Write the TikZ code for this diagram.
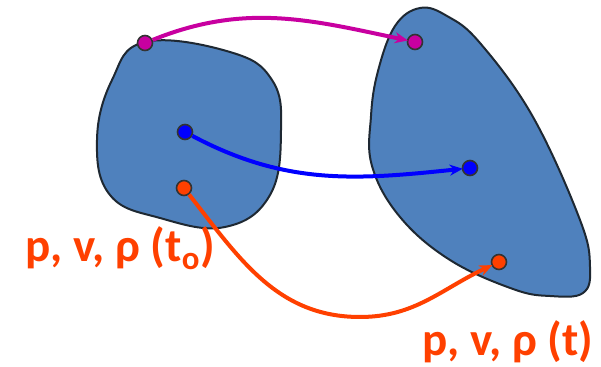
\documentclass[tikz,border=0pt]{standalone}
\usepackage{fontspec}
\setmainfont{Carlito}
\usetikzlibrary{arrows.meta}

\definecolor{blobblue}{RGB}{79,129,189}
\definecolor{blobedge}{RGB}{30,40,50}
\definecolor{magline}{RGB}{200,0,160}
\definecolor{redline}{RGB}{255,64,0}

\begin{document}
\begin{tikzpicture}[
  x=1pt, y=1pt, >={Stealth[length=13pt,width=11pt]},
  blob/.style={draw=blobedge, line width=2pt, fill=blobblue},
  pt/.style={circle, draw=black!80, line width=1.6pt, inner sep=0pt, minimum size=15pt},
  path/.style={line width=4pt, ->, shorten >=-1pt},
  lbl/.style={text=redline, font=\fontsize{47}{52}\selectfont\bfseries, inner sep=0pt},
]
\useasboundingbox (0,0) rectangle (601,366);

% the two regions
\draw[blob] plot[smooth cycle, tension=0.7] coordinates {
  (145,324) (230,314) (272,286) (281,236) (270,171) (225,139)
  (160,148) (110,171) (97,226) (112,286)};
\draw[blob] plot[smooth cycle, tension=0.65] coordinates {
  (420,358) (447,350) (480,323) (533,249) (580,146) (590,99)
  (583,73) (550,70) (513,77) (450,106) (400,149) (372,200)
  (371,250) (378,295) (395,340)};

% points at t_o and t
\node[pt, fill=magline] (m0) at (145,323) {};
\node[pt, fill=magline] (m1) at (415,324) {};
\node[pt, fill=blue] (b0) at (185,234) {};
\node[pt, fill=blue] (b1) at (470,198) {};
\node[pt, fill=redline] (r0) at (184,178) {};
\node[pt, fill=redline] (r1) at (499,104) {};
\coordinate (rlow) at (360,49);

\draw[path, magline] (m0) to[out=22, in=168] (m1);
\draw[path, blue] (b0) to[out=-28, in=186] (b1);
\draw[path, redline] (r0) to[out=-52, in=180] (rlow) to[out=0, in=205] (r1);

\node[lbl, anchor=base west] (l0) at (25,104) {p, v, ρ (t\textsubscript{o})};
\node[lbl, anchor=base west] (l1) at (422,11) {p, v, ρ (t)};
\end{tikzpicture}
\end{document}
